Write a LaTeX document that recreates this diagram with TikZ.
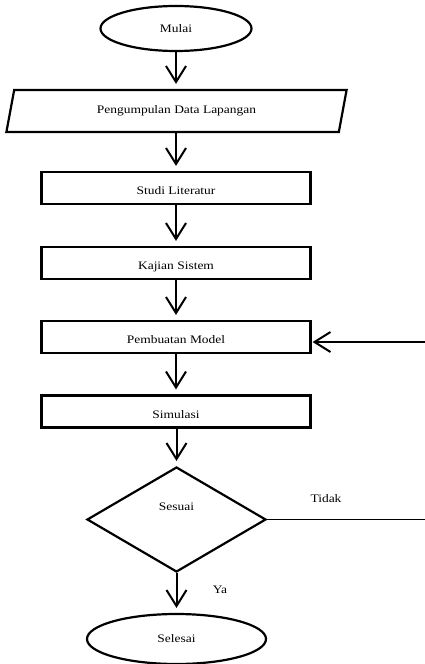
\documentclass[tikz,border=0pt]{standalone}
\usepackage{fontspec}
\setmainfont{Liberation Serif}[FakeStretch=1.17]
\usetikzlibrary{shapes.geometric,arrows.meta}
\begin{document}
\begin{tikzpicture}[x=1pt,y=-1pt,
  every node/.style={font=\fontsize{11.5}{13}\selectfont},
  shapeline/.style={draw=black,line width=2.2pt},
  term/.style={shapeline,ellipse,inner sep=0pt},
  procbox/.style={shapeline,rectangle,minimum width=269pt,minimum height=32pt,inner sep=0pt,
                  text height=13pt,text depth=0pt},
  flow/.style={line width=2pt,shorten >=5pt,-{Straight Barb[length=16pt,width=20pt,line width=2pt]}},
  plainline/.style={line width=1.2pt},
]
\useasboundingbox (0,0) rectangle (425,664);

\node[term,minimum width=151pt,minimum height=45pt] (mulai) at (176,28.5) {Mulai};
\node[shapeline,trapezium,trapezium left angle=70,trapezium right angle=110,
      trapezium stretches=true,minimum width=341pt,minimum height=42pt,inner sep=0pt]
      (data) at (176.5,111) {Pengumpulan Data Lapangan};
\node[procbox] (studi) at (176,188) {Studi Literatur};
\node[procbox] (kajian) at (176,263) {Kajian Sistem};
\node[procbox] (model) at (176,337) {Pembuatan Model};
\node[procbox] (simul) at (176,411.5) {Simulasi};
\node[shapeline,diamond,minimum width=179pt,minimum height=105pt,inner sep=0pt] (dec) at (176.5,519.5) {};
\node (sesuai) at (176.5,507) {Sesuai};
\node[term,minimum width=179pt,minimum height=50pt] (selesai) at (176.5,639) {Selesai};

\node (tidak) at (326,499) {Tidak};
\node (ya) at (220,590) {Ya};

\coordinate (loopin) at (425,342);
\coordinate (loopout) at (425,519.5);

\draw[flow] (mulai) -- (mulai |- data.north);
\draw[flow] (data.south -| studi) -- (studi);
\draw[flow] (studi) -- (kajian);
\draw[flow] (kajian) -- (model);
\draw[flow] (model) -- (simul);
\draw[flow] (simul.south -| dec) -- (dec);
\draw[flow] (dec) -- (selesai);
\draw[flow,shorten >=1pt] (loopin) -- (loopin -| model.east);
\draw[plainline] (dec.east) -- (loopout);
\end{tikzpicture}
\end{document}
